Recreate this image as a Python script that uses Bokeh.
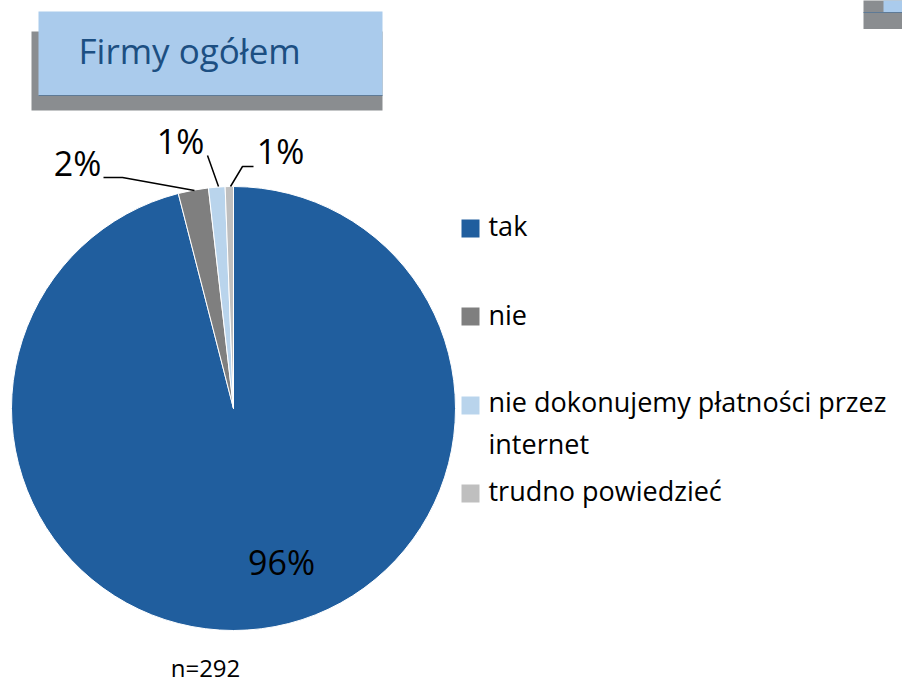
import math
from bokeh.plotting import figure
from bokeh.models import Range1d
from bokeh.core.properties import value
from bokeh.embed import file_html
from bokeh.resources import INLINE

# ---- data ----
categories = ["tak", "nie", "nie dokonujemy płatności przez internet", "trudno powiedzieć"]
shares = [96.0, 2.2, 1.2, 0.6]
pct_labels = ["96%", "2%", "1%", "1%"]
colors = ["#205E9E", "#7F7F7F", "#B9D4EC", "#BFBFBF"]
title_text = "Firmy ogółem"
note_text = "n=292"

W, H = 902, 683


def Y(sy):
    return H - sy


def BL(sy, size):
    # baseline correction for the renderer's text placement
    return Y(sy - 0.44 * size)


p = figure(width=W, height=H, x_range=Range1d(0, W), y_range=Range1d(0, H),
           output_backend="svg", toolbar_location=None, min_border=0)
p.axis.visible = False
p.grid.visible = False
p.outline_line_color = None
p.background_fill_color = "white"
p.border_fill_color = "white"

FONT = value("Open Sans")

# ---- title box ----
p.quad(left=[31], right=[382], top=[Y(31)], bottom=[Y(110)], fill_color="#8A8D90", line_color=None)
p.quad(left=[38], right=[382], top=[Y(11)], bottom=[Y(95)], fill_color="#AACBEC", line_color=None)
p.segment(x0=[38], y0=[Y(95)], x1=[382], y1=[Y(95)], line_color="#5E7A96", line_width=1)
p.text(x=[78], y=[BL(65, 35)], text=[title_text], text_font=FONT, text_font_size="35px",
       text_color="#1C4F82", text_baseline="alphabetic", text_align="left")

# ---- top-right decoration ----
p.quad(left=[863], right=[905], top=[Y(-2)], bottom=[Y(28.5)], fill_color="#8A8D90", line_color=None)
p.quad(left=[883], right=[905], top=[Y(-2)], bottom=[Y(12)], fill_color="#AACBEC", line_color=None)
p.segment(x0=[863], y0=[Y(12)], x1=[905], y1=[Y(12)], line_color="#5E7A96", line_width=1)

# ---- pie ----
cx, cy, r = 233, Y(408), 222
total = sum(shares)
starts, ends = [], []
cum = 0.0
for s in shares:
    starts.append(math.pi / 2 - 2 * math.pi * cum / total)
    cum += s
    ends.append(math.pi / 2 - 2 * math.pi * cum / total)

p.wedge(x=[cx] * len(shares), y=[cy] * len(shares), radius=r,
        start_angle=starts, end_angle=ends, direction="clock",
        fill_color=colors, line_color="white", line_width=1)

# ---- percentage labels (annotation layout) ----
PS = 34
label_pos = [(281, 576), (77, 177), (180, 155), (280, 165)]
for (lx, ly), t in zip(label_pos, pct_labels):
    p.text(x=[lx], y=[BL(ly, PS)], text=[t], text_font=FONT, text_font_size=f"{PS}px",
           text_color="#000000", text_align="center", text_baseline="alphabetic")

# leader lines
leaders = [
    [(103, 177), (122, 177), (194, 190)],
    [(207, 155), (218, 186)],
    [(253, 166), (242, 166), (230, 186)],
]
p.multi_line(xs=[[pt[0] for pt in L] for L in leaders],
             ys=[[Y(pt[1]) for pt in L] for L in leaders],
             line_color="#000000", line_width=1.5)

# ---- legend ----
LS = 27
sq_y = [228, 316, 405, 493]
base_y = [237, 326, 413, 502]
for cat, col, sy, by in zip(categories, colors, sq_y, base_y):
    p.rect(x=[470], y=[Y(sy)], width=18, height=18, fill_color=col, line_color=None)
    words = cat.split(" ")
    lines = [cat] if len(cat) <= 32 else [" ".join(words[:-1]), words[-1]]
    for k, ln in enumerate(lines):
        p.text(x=[488], y=[BL(by + 42 * k, LS)], text=[ln], text_font=FONT,
               text_font_size=f"{LS}px", text_color="#000000",
               text_align="left", text_baseline="alphabetic")

# ---- note ----
NS = 24
p.text(x=[205], y=[BL(678, NS)], text=[note_text], text_font=FONT, text_font_size=f"{NS}px",
       text_color="#000000", text_align="center", text_baseline="alphabetic")

open("out.html", "w").write(file_html(p, INLINE))
